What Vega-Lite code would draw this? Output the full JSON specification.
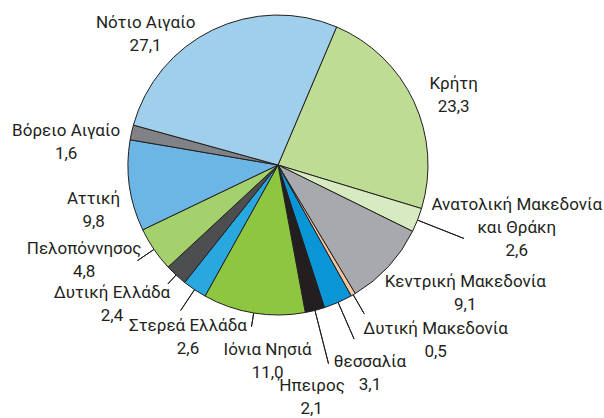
{
  "$schema": "https://vega.github.io/schema/vega-lite/v6.json",
  "width": 556,
  "height": 330,
  "autosize": {"type": "none"},
  "padding": {"left": 0, "top": 0, "right": 48, "bottom": 88},
  "background": "white",
  "config": {
    "view": {"stroke": null},
    "text": {"font": "Roboto", "fontSize": 17, "lineBreak": "\n", "lineHeight": 23, "align": "center", "baseline": "middle", "fill": "#231f20", "dy": -11.5}
  },
  "data": {"values": [
    {"idx": 1, "name": "Κρήτη", "value": 23.3, "label": "Κρήτη\n23,3"},
    {"idx": 2, "name": "Ανατολική Μακεδονία και Θράκη", "value": 2.6, "label": "Ανατολική Μακεδονία\nκαι Θράκη\n2,6"},
    {"idx": 3, "name": "Κεντρική Μακεδονία", "value": 9.1, "label": "Κεντρική Μακεδονία\n9,1"},
    {"idx": 4, "name": "Δυτική Μακεδονία", "value": 0.5, "label": "Δυτική Μακεδονία\n0,5"},
    {"idx": 5, "name": "Θεσσαλία", "value": 3.1, "label": "θεσσαλία\n3,1"},
    {"idx": 6, "name": "Ήπειρος", "value": 2.1, "label": "Ήπειρος\n2,1"},
    {"idx": 7, "name": "Ιόνια Νησιά", "value": 11.0, "label": "Ιόνια Νησιά\n11,0"},
    {"idx": 8, "name": "Στερεά Ελλάδα", "value": 2.6, "label": "Στερεά Ελλάδα\n2,6"},
    {"idx": 9, "name": "Δυτική Ελλάδα", "value": 2.4, "label": "Δυτική Ελλάδα\n2,4"},
    {"idx": 10, "name": "Πελοπόννησος", "value": 4.8, "label": "Πελοπόννησος\n4,8"},
    {"idx": 11, "name": "Αττική", "value": 9.8, "label": "Αττική\n9,8"},
    {"idx": 12, "name": "Βόρειο Αιγαίο", "value": 1.6, "label": "Βόρειο Αιγαίο\n1,6"},
    {"idx": 13, "name": "Νότιο Αιγαίο", "value": 27.1, "label": "Νότιο Αιγαίο\n27,1"}
  ]},
  "encoding": {
    "theta": {"field": "value", "type": "quantitative", "stack": true, "scale": {"range": [0.4014, 6.6846]}},
    "order": {"field": "idx", "type": "quantitative"}
  },
  "layer": [
    {
      "mark": {"type": "arc", "outerRadius": 150, "stroke": "#231f20", "strokeWidth": 1},
      "encoding": {
        "color": {"field": "name", "type": "nominal", "legend": null,
          "scale": {
            "domain": ["Κρήτη", "Ανατολική Μακεδονία και Θράκη", "Κεντρική Μακεδονία", "Δυτική Μακεδονία", "Θεσσαλία", "Ήπειρος", "Ιόνια Νησιά", "Στερεά Ελλάδα", "Δυτική Ελλάδα", "Πελοπόννησος", "Αττική", "Βόρειο Αιγαίο", "Νότιο Αιγαίο"],
            "range": ["#bfdc95", "#d7eac0", "#a7a9ac", "#f7c59f", "#0a96d6", "#231f20", "#8dc63f", "#29a8e0", "#4d4e50", "#a5d16c", "#6cb6e5", "#808285", "#a0cfec"]
          }}
      }
    },
    {"mark": {"type": "arc", "innerRadius": 150, "outerRadius": 200, "padAngle": 3, "fill": null, "stroke": "#231f20", "strokeWidth": 1},
     "encoding": {"opacity": {"condition": {"test": "datum.name === 'Ανατολική Μακεδονία και Θράκη'", "value": 1}, "value": 0}}},
    {"mark": {"type": "arc", "innerRadius": 150, "outerRadius": 172, "padAngle": 3, "fill": null, "stroke": "#231f20", "strokeWidth": 1},
     "encoding": {"opacity": {"condition": {"test": "datum.name === 'Δυτική Μακεδονία'", "value": 1}, "value": 0}}},
    {"mark": {"type": "arc", "innerRadius": 150, "outerRadius": 190, "padAngle": 3, "fill": null, "stroke": "#231f20", "strokeWidth": 1},
     "encoding": {"opacity": {"condition": {"test": "datum.name === 'Θεσσαλία'", "value": 1}, "value": 0}}},
    {"mark": {"type": "arc", "innerRadius": 150, "outerRadius": 205, "padAngle": 3, "fill": null, "stroke": "#231f20", "strokeWidth": 1},
     "encoding": {"opacity": {"condition": {"test": "datum.name === 'Ήπειρος'", "value": 1}, "value": 0}}},
    {"mark": {"type": "arc", "innerRadius": 150, "outerRadius": 164, "padAngle": 3, "fill": null, "stroke": "#231f20", "strokeWidth": 1},
     "encoding": {"opacity": {"condition": {"test": "datum.name === 'Ιόνια Νησιά'", "value": 1}, "value": 0}}},
    {"mark": {"type": "arc", "innerRadius": 150, "outerRadius": 175, "padAngle": 3, "fill": null, "stroke": "#231f20", "strokeWidth": 1},
     "encoding": {"opacity": {"condition": {"test": "datum.name === 'Στερεά Ελλάδα'", "value": 1}, "value": 0}}},
    {"mark": {"type": "arc", "innerRadius": 150, "outerRadius": 162, "padAngle": 3, "fill": null, "stroke": "#231f20", "strokeWidth": 1},
     "encoding": {"opacity": {"condition": {"test": "datum.name === 'Δυτική Ελλάδα'", "value": 1}, "value": 0}}},
    {"mark": {"type": "arc", "innerRadius": 150, "outerRadius": 170, "padAngle": 3, "fill": null, "stroke": "#231f20", "strokeWidth": 1},
     "encoding": {"opacity": {"condition": {"test": "datum.name === 'Πελοπόννησος'", "value": 1}, "value": 0}}},
    {"mark": {"type": "text", "radius": 189, "thetaOffset": 0.059},
     "encoding": {"text": {"condition": {"test": "datum.name === 'Κρήτη'", "field": "label"}, "value": ""}}},
    {"mark": {"type": "text", "radius": 247, "thetaOffset": -0.117, "dy": -23},
     "encoding": {"text": {"condition": {"test": "datum.name === 'Ανατολική Μακεδονία και Θράκη'", "field": "label"}, "value": ""}}},
    {"mark": {"type": "text", "radius": 227, "thetaOffset": -0.143},
     "encoding": {"text": {"condition": {"test": "datum.name === 'Κεντρική Μακεδονία'", "field": "label"}, "value": ""}}},
    {"mark": {"type": "text", "radius": 236, "thetaOffset": -0.206},
     "encoding": {"text": {"condition": {"test": "datum.name === 'Δυτική Μακεδονία'", "field": "label"}, "value": ""}}},
    {"mark": {"type": "text", "radius": 228, "thetaOffset": -0.003},
     "encoding": {"text": {"condition": {"test": "datum.name === 'Θεσσαλία'", "field": "label"}, "value": ""}}},
    {"mark": {"type": "text", "radius": 235, "thetaOffset": 0.105},
     "encoding": {"text": {"condition": {"test": "datum.name === 'Ήπειρος'", "field": "label"}, "value": ""}}},
    {"mark": {"type": "text", "radius": 197, "thetaOffset": -0.11},
     "encoding": {"text": {"condition": {"test": "datum.name === 'Ιόνια Νησιά'", "field": "label"}, "value": ""}}},
    {"mark": {"type": "text", "radius": 195, "thetaOffset": -0.11},
     "encoding": {"text": {"condition": {"test": "datum.name === 'Στερεά Ελλάδα'", "field": "label"}, "value": ""}}},
    {"mark": {"type": "text", "radius": 217, "thetaOffset": 0.124},
     "encoding": {"text": {"condition": {"test": "datum.name === 'Δυτική Ελλάδα'", "field": "label"}, "value": ""}}},
    {"mark": {"type": "text", "radius": 216, "thetaOffset": 0.141},
     "encoding": {"text": {"condition": {"test": "datum.name === 'Πελοπόννησος'", "field": "label"}, "value": ""}}},
    {"mark": {"type": "text", "radius": 190, "thetaOffset": -0.105},
     "encoding": {"text": {"condition": {"test": "datum.name === 'Αττική'", "field": "label"}, "value": ""}}},
    {"mark": {"type": "text", "radius": 213, "thetaOffset": -0.115},
     "encoding": {"text": {"condition": {"test": "datum.name === 'Βόρειο Αιγαίο'", "field": "label"}, "value": ""}}},
    {"mark": {"type": "text", "radius": 186, "thetaOffset": -0.342},
     "encoding": {"text": {"condition": {"test": "datum.name === 'Νότιο Αιγαίο'", "field": "label"}, "value": ""}}}
  ]
}
